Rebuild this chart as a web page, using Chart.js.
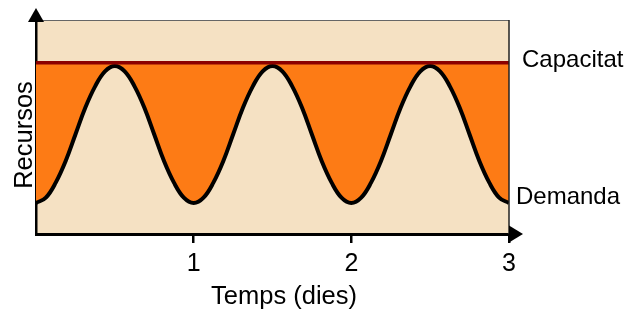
<!DOCTYPE html>
<html>
<head>
<meta charset="utf-8">
<script src="https://cdn.jsdelivr.net/npm/chart.js@4"></script>
<style>
  html, body { margin: 0; padding: 0; background: #fff; }
  #wrap { width: 628px; height: 313px; }
</style>
</head>
<body>
<div id="wrap"><canvas id="grafic" width="628" height="313"></canvas></div>
<script>
// temps en dies (cada hora i mitja)
var dies = [0, 0.0625, 0.125, 0.1875, 0.25, 0.3125, 0.375, 0.4375,
            0.5, 0.5625, 0.625, 0.6875, 0.75, 0.8125, 0.875, 0.9375,
            1, 1.0625, 1.125, 1.1875, 1.25, 1.3125, 1.375, 1.4375,
            1.5, 1.5625, 1.625, 1.6875, 1.75, 1.8125, 1.875, 1.9375,
            2, 2.0625, 2.125, 2.1875, 2.25, 2.3125, 2.375, 2.4375,
            2.5, 2.5625, 2.625, 2.6875, 2.75, 2.8125, 2.875, 2.9375, 3];
// demanda llegida del gràfic
var demanda = [1.45, 1.7, 2.4, 3.4, 4.65, 5.9, 6.9, 7.6,
               7.85, 7.6, 6.9, 5.9, 4.65, 3.4, 2.4, 1.7,
               1.45, 1.7, 2.4, 3.4, 4.65, 5.9, 6.9, 7.6,
               7.85, 7.6, 6.9, 5.9, 4.65, 3.4, 2.4, 1.7,
               1.45, 1.7, 2.4, 3.4, 4.65, 5.9, 6.9, 7.6,
               7.85, 7.6, 6.9, 5.9, 4.65, 3.4, 2.4, 1.7, 1.45];
var capacitat = [8, 8];
var capacitatDies = [0, 3];
var etiquetesX = ["", "1", "2", "3"];

var font = "'Liberation Sans', Arial, sans-serif";

var decoracio = {
    id: 'decoracio',
    beforeDraw: function (chart) {
        var ctx = chart.ctx, a = chart.chartArea;
        ctx.save();
        ctx.fillStyle = '#F5E1C3';
        ctx.fillRect(a.left, a.top, a.right - a.left, a.bottom - a.top);
        ctx.restore();
    },
    afterDraw: function (chart) {
        var ctx = chart.ctx, a = chart.chartArea;
        var y = chart.scales.y;
        ctx.save();
        // vores superior i dreta
        ctx.strokeStyle = '#666';
        ctx.lineWidth = 1;
        ctx.beginPath();
        ctx.moveTo(a.left, a.top + 0.5);
        ctx.lineTo(a.right, a.top + 0.5);
        ctx.stroke();
        ctx.strokeStyle = '#222';
        ctx.lineWidth = 1.5;
        ctx.beginPath();
        ctx.moveTo(a.right, a.top);
        ctx.lineTo(a.right, a.bottom);
        ctx.stroke();
        // fletxes
        ctx.fillStyle = '#000';
        ctx.beginPath();
        ctx.moveTo(a.left, a.top - 12);
        ctx.lineTo(a.left - 8, a.top + 2);
        ctx.lineTo(a.left + 8, a.top + 2);
        ctx.closePath();
        ctx.fill();
        ctx.beginPath();
        ctx.moveTo(a.right + 14, a.bottom);
        ctx.lineTo(a.right, a.bottom - 8.5);
        ctx.lineTo(a.right, a.bottom + 8.5);
        ctx.closePath();
        ctx.fill();
        // textos
        ctx.font = '24px ' + font;
        ctx.textBaseline = 'middle';
        ctx.textAlign = 'left';
        ctx.fillText('Capacitat', a.right + 13, y.getPixelForValue(capacitat[1]) - 2);
        ctx.fillText('Demanda', a.right + 7, y.getPixelForValue(demanda[demanda.length - 1]) - 6);
        ctx.font = '25.5px ' + font;
        ctx.textAlign = 'center';
        ctx.textBaseline = 'alphabetic';
        ctx.fillText('Temps (dies)', 284, 304);
        ctx.translate(32, 135);
        ctx.rotate(-Math.PI / 2);
        ctx.fillText('Recursos', 0, 0);
        ctx.restore();
    }
};

new Chart(document.getElementById('grafic'), {
    type: 'line',
    data: {
        datasets: [{
            label: 'Capacitat',
            data: capacitatDies.map(function (d, i) { return { x: d, y: capacitat[i] }; }),
            borderColor: '#8B0000',
            borderWidth: 3.5,
            pointRadius: 0,
            fill: false
        }, {
            label: 'Demanda',
            data: dies.map(function (d, i) { return { x: d, y: demanda[i] }; }),
            borderColor: '#000',
            borderWidth: 4,
            backgroundColor: '#FD7B15',
            pointRadius: 0,
            tension: 0.4,
            fill: 0
        }]
    },
    options: {
        responsive: false,
        animation: false,
        layout: { padding: { left: 0, top: 20, right: 119, bottom: 0 } },
        plugins: { legend: { display: false }, tooltip: { enabled: false } },
        scales: {
            x: {
                type: 'linear',
                min: 0,
                max: 3,
                afterFit: function (s) { s.height = 79; },
                ticks: {
                    stepSize: 1,
                    color: '#000',
                    padding: 6,
                    font: { family: font, size: 25 },
                    callback: function (v) { return etiquetesX[v]; }
                },
                grid: {
                    drawOnChartArea: false,
                    drawTicks: true,
                    tickLength: 9,
                    lineWidth: 2.5,
                    color: function (c) { return c.tick && c.tick.value === 0 ? 'rgba(0,0,0,0)' : '#000'; }
                },
                border: { display: true, color: '#000', width: 3 }
            },
            y: {
                min: 0,
                max: 10,
                afterFit: function (s) { s.width = 36; },
                ticks: { display: false },
                grid: { display: false },
                border: { display: true, color: '#000', width: 2.5 }
            }
        }
    },
    plugins: [decoracio]
});
</script>
</body>
</html>
